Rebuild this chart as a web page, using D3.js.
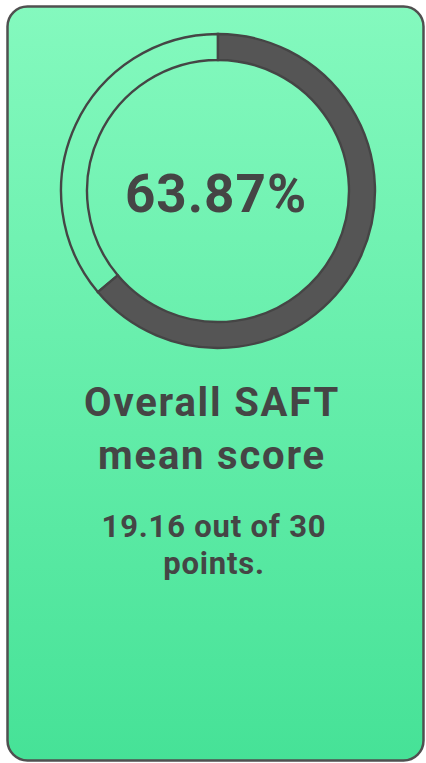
<!DOCTYPE html>
<html>
<head>
<meta charset="utf-8">
<script src="https://cdn.jsdelivr.net/npm/d3@7"></script>
<style>
  html, body { margin: 0; padding: 0; background: #fff; }
  #card { width: 426px; height: 763px; }
  text { font-family: Roboto, "Noto Sans", sans-serif; font-weight: 700; fill: #454545; }
</style>
</head>
<body>
<div id="card"></div>
<script>
// data read from the card
const scoreValue = 19.16
const scoreMax = 30
const percent = 63.87
const titleLines = ["Overall SAFT", "mean score"]
const subtitleLines = ["19.16 out of 30", "points."]

const width = 426, height = 763;

const svg = d3.select("#card")
    .append("svg")
    .attr("width", width)
    .attr("height", height);

/* background gradient */
const grad = svg.append("defs")
    .append("linearGradient")
    .attr("id", "bg")
    .attr("x1", 0).attr("y1", 0)
    .attr("x2", 0).attr("y2", 1);
grad.append("stop").attr("offset", "0%").attr("stop-color", "#84f9be");
grad.append("stop").attr("offset", "100%").attr("stop-color", "#46e297");

svg.append("rect")
    .attr("x", 7.5)
    .attr("y", 6.5)
    .attr("width", 416)
    .attr("height", 754)
    .attr("rx", 20)
    .attr("fill", "url(#bg)")
    .attr("stroke", "#505050")
    .attr("stroke-width", 2.5);

/* gauge */
const cx = 218, cy = 191;
const outerR = 157, innerR = 131;

const g = svg.append("g")
    .attr("transform", `translate(${cx}, ${cy})`);

const angle = d3.scaleLinear()
    .domain([0, 100])
    .range([0, 2 * Math.PI]);

const arc = d3.arc()
    .innerRadius(innerR)
    .outerRadius(outerR);

// remaining part, outline only
g.append("path")
    .attr("d", arc({startAngle: angle(percent), endAngle: angle(100)}))
    .attr("fill", "none")
    .attr("stroke", "#454545")
    .attr("stroke-width", 2.4);

// filled part
g.append("path")
    .attr("d", arc({startAngle: angle(0), endAngle: angle(percent)}))
    .attr("fill", "#555555")
    .attr("stroke", "#454545")
    .attr("stroke-width", 2.4);

g.append("text")
    .attr("text-anchor", "middle")
    .attr("x", -2)
    .attr("y", 21)
    .style("font-size", "53px")
    .style("letter-spacing", "1px")
    .text(d3.format(".2f")(percent) + "%");

/* title */
svg.selectAll("text.title")
    .data(titleLines)
    .enter()
    .append("text")
    .attr("class", "title")
    .attr("text-anchor", "middle")
    .attr("x", 212)
    .attr("y", (d, i) => 416 + i * 53)
    .style("font-size", "40px")
    .style("letter-spacing", "1.8px")
    .text(d => d);

svg.selectAll("text.sub")
    .data(subtitleLines)
    .enter()
    .append("text")
    .attr("class", "sub")
    .attr("text-anchor", "middle")
    .attr("x", 214)
    .attr("y", (d, i) => 537 + i * 37)
    .style("font-size", "31px")
    .style("letter-spacing", "0.8px")
    .text(d => d);
</script>
</body>
</html>
